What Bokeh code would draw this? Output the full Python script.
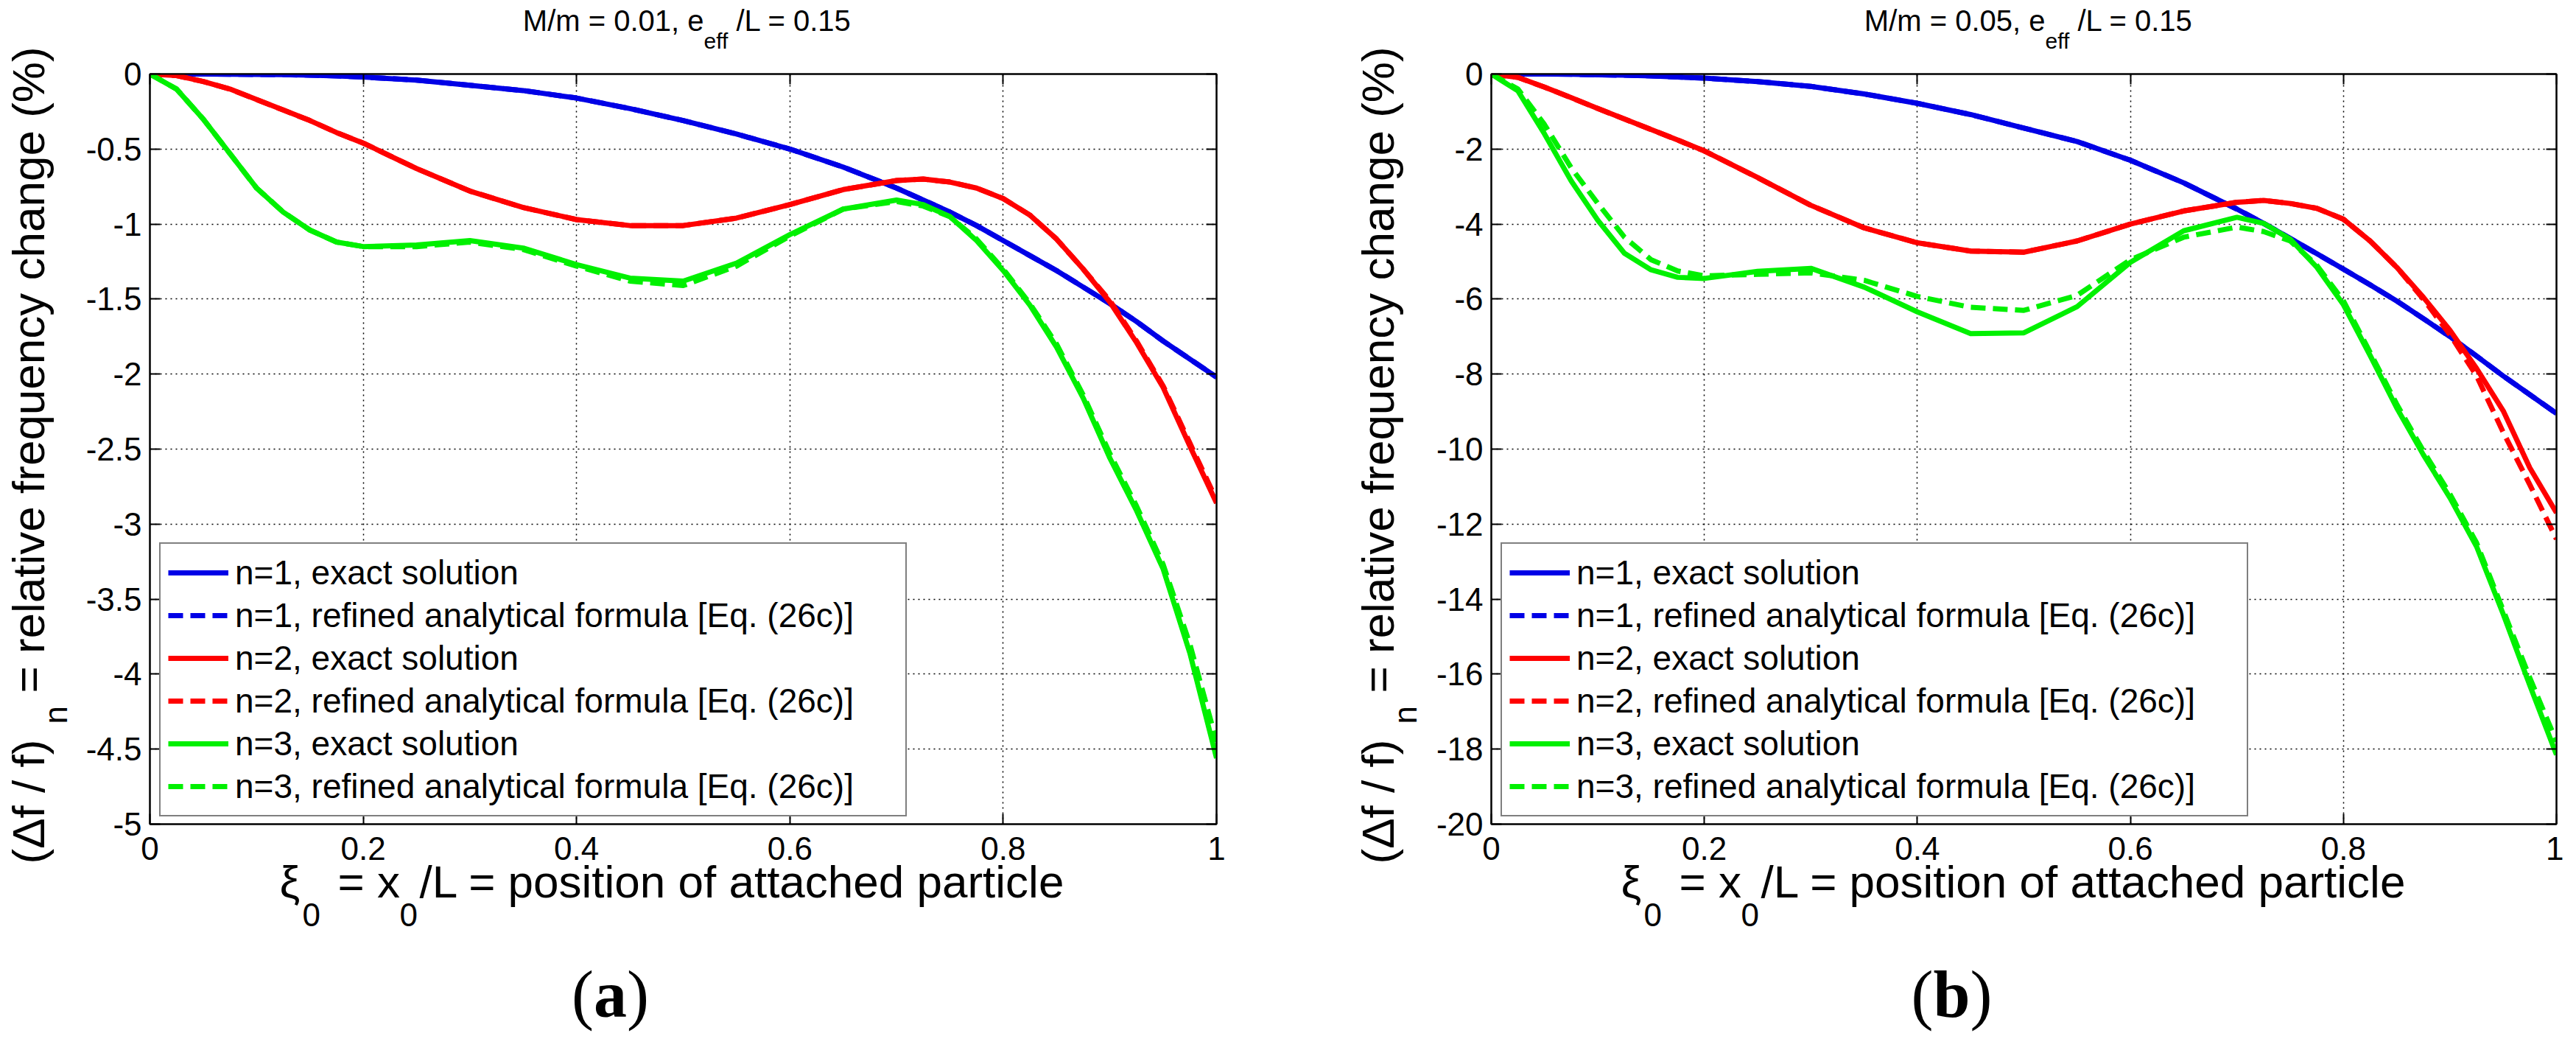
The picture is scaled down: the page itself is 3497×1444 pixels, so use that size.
import math
from bokeh.plotting import figure
from bokeh.layouts import row
from bokeh.models import Range1d, LinearAxis, FixedTicker, Label, Legend, LegendItem
from bokeh.embed import file_html
from bokeh.resources import INLINE

xi = [0, 0.025, 0.05, 0.075, 0.1, 0.125, 0.15, 0.175, 0.2, 0.25, 0.3, 0.35, 0.4,
      0.45, 0.5, 0.55, 0.6, 0.65, 0.7, 0.725, 0.75, 0.775, 0.8, 0.825, 0.85, 0.875,
      0.9, 0.925, 0.95, 0.975, 1.0]

# (a) M/m = 0.01
a_n1_exact = [0, 0, 0, -0.001, -0.002, -0.004, -0.007, -0.012, -0.02, -0.04, -0.075, -0.11, -0.16,
              -0.23, -0.31, -0.40, -0.50, -0.62, -0.76, -0.84, -0.92, -1.01, -1.11, -1.21, -1.31, -1.42,
              -1.53, -1.65, -1.78, -1.90, -2.02]
a_n1_formula = [0, 0, 0, -0.001, -0.002, -0.004, -0.007, -0.012, -0.02, -0.04, -0.075, -0.11, -0.16,
                -0.23, -0.31, -0.40, -0.50, -0.62, -0.76, -0.84, -0.92, -1.01, -1.11, -1.21, -1.31, -1.42,
                -1.53, -1.65, -1.78, -1.90, -2.02]
a_n2_exact = [0, -0.01, -0.05, -0.10, -0.17, -0.24, -0.31, -0.39, -0.46, -0.63, -0.78, -0.89, -0.97,
              -1.01, -1.01, -0.96, -0.87, -0.77, -0.71, -0.70, -0.72, -0.76, -0.83, -0.94, -1.10, -1.30,
              -1.52, -1.79, -2.09, -2.48, -2.86]
a_n2_formula = [0, -0.01, -0.05, -0.10, -0.17, -0.24, -0.31, -0.39, -0.46, -0.63, -0.78, -0.89, -0.97,
                -1.01, -1.01, -0.96, -0.87, -0.77, -0.71, -0.70, -0.72, -0.76, -0.83, -0.94, -1.10, -1.30,
                -1.51, -1.78, -2.08, -2.46, -2.84]
a_n3_exact = [0, -0.10, -0.30, -0.53, -0.76, -0.92, -1.04, -1.12, -1.15, -1.14, -1.11, -1.16, -1.27,
              -1.36, -1.38, -1.26, -1.07, -0.90, -0.84, -0.87, -0.95, -1.11, -1.31, -1.54, -1.82, -2.16,
              -2.56, -2.91, -3.30, -3.86, -4.56]
a_n3_formula = [0, -0.10, -0.30, -0.53, -0.76, -0.92, -1.04, -1.12, -1.15, -1.15, -1.12, -1.17, -1.28,
                -1.38, -1.41, -1.28, -1.08, -0.90, -0.85, -0.88, -0.95, -1.10, -1.30, -1.53, -1.80, -2.14,
                -2.53, -2.88, -3.27, -3.80, -4.45]

# (b) M/m = 0.05
b_n1_exact = [0, 0, 0, -0.005, -0.02, -0.03, -0.05, -0.08, -0.11, -0.20, -0.33, -0.53, -0.78,
              -1.08, -1.44, -1.80, -2.30, -2.90, -3.60, -3.98, -4.38, -4.79, -5.20, -5.62, -6.05, -6.52,
              -7.00, -7.52, -8.05, -8.55, -9.05]
b_n1_formula = [0, 0, 0, -0.005, -0.02, -0.03, -0.05, -0.08, -0.11, -0.20, -0.33, -0.53, -0.78,
                -1.08, -1.44, -1.80, -2.30, -2.90, -3.60, -3.98, -4.38, -4.79, -5.20, -5.62, -6.05, -6.52,
                -7.00, -7.52, -8.05, -8.55, -9.05]
b_n2_exact = [0, -0.09, -0.35, -0.63, -0.92, -1.20, -1.48, -1.76, -2.05, -2.76, -3.50, -4.10, -4.50,
              -4.72, -4.75, -4.45, -4.00, -3.65, -3.42, -3.37, -3.45, -3.58, -3.87, -4.45, -5.15, -5.95,
              -6.83, -7.85, -8.98, -10.50, -11.70]
b_n2_formula = [0, -0.09, -0.35, -0.63, -0.92, -1.20, -1.48, -1.76, -2.05, -2.76, -3.50, -4.10, -4.50,
                -4.72, -4.75, -4.45, -4.00, -3.65, -3.42, -3.37, -3.45, -3.58, -3.87, -4.45, -5.15, -6.00,
                -6.95, -8.05, -9.55, -10.95, -12.40]
b_n3_exact = [0, -0.45, -1.60, -2.85, -3.90, -4.78, -5.22, -5.42, -5.45, -5.26, -5.18, -5.68, -6.34,
              -6.92, -6.90, -6.20, -5.02, -4.18, -3.82, -3.98, -4.40, -5.15, -6.15, -7.50, -8.90, -10.15,
              -11.30, -12.60, -14.40, -16.30, -18.15]
b_n3_formula = [0, -0.40, -1.35, -2.50, -3.45, -4.35, -4.95, -5.25, -5.38, -5.34, -5.30, -5.50, -5.93,
                -6.22, -6.30, -5.90, -4.95, -4.35, -4.08, -4.20, -4.45, -5.10, -6.05, -7.42, -8.80, -10.05,
                -11.20, -12.50, -14.30, -16.10, -17.80]

x_ticks = [0, 0.2, 0.4, 0.6, 0.8, 1]
x_tick_labels = ["0", "0.2", "0.4", "0.6", "0.8", "1"]
a_y_ticks = [0, -0.5, -1, -1.5, -2, -2.5, -3, -3.5, -4, -4.5, -5]
a_y_tick_labels = ["0", "-0.5", "-1", "-1.5", "-2", "-2.5", "-3", "-3.5", "-4", "-4.5", "-5"]
b_y_ticks = [0, -2, -4, -6, -8, -10, -12, -14, -16, -18, -20]
b_y_tick_labels = ["0", "-2", "-4", "-6", "-8", "-10", "-12", "-14", "-16", "-18", "-20"]

legend_labels = ["n=1, exact solution", "n=1, refined analytical formula [Eq. (26c)]",
                 "n=2, exact solution", "n=2, refined analytical formula [Eq. (26c)]",
                 "n=3, exact solution", "n=3, refined analytical formula [Eq. (26c)]"]

BLUE, RED, GREEN = "#0000e6", "#ff0000", "#00f000"
FONT = "Liberation Sans"
SERIF = "Liberation Serif"
FH = 1018


def put(p, fw, text, px, py, size, font=FONT, **kw):
    # px: pixels right of the frame's left edge, py: pixels below the frame's top
    y0 = p.y_range.start
    lbl = Label(x=px / fw, y=y0 * py / FH, text=text, text_font=font,
                text_font_size=f"{size}px", text_color="black", **kw)
    # in the (roomy) bottom panel, so the text is not clipped to the frame
    p.add_layout(lbl, "below")


def style_axis(ax, show_labels=True):
    ax.axis_line_width = 2
    ax.axis_line_color = "black"
    ax.major_tick_in = 14
    ax.major_tick_out = 0
    ax.major_tick_line_width = 2
    ax.minor_tick_line_color = None
    ax.major_label_text_font = FONT
    ax.major_label_text_font_size = "44px"
    ax.major_label_text_color = "black"
    if not show_labels:
        ax.major_label_text_color = None
        ax.major_label_standoff = 0


def panel(fw, left, right, y_min, y_ticks, y_labels, curves, title_left, ylab_px, letter, letter_w):
    p = figure(frame_width=fw, frame_height=FH,
               min_border_left=left, min_border_right=right,
               min_border_top=100, min_border_bottom=310,
               x_range=Range1d(0, 1), y_range=Range1d(y_min, 0),
               output_backend="svg", toolbar_location=None, tools="")
    p.outline_line_color = "black"
    p.outline_line_width = 2
    p.background_fill_color = "white"
    p.border_fill_color = "white"

    p.xaxis.ticker = FixedTicker(ticks=x_ticks)
    p.xaxis.major_label_overrides = dict(zip(x_ticks, x_tick_labels))
    p.yaxis.ticker = FixedTicker(ticks=y_ticks)
    p.yaxis.major_label_overrides = dict(zip(y_ticks, y_labels))
    style_axis(p.xaxis[0])
    style_axis(p.yaxis[0])
    p.xaxis.major_label_standoff = 17
    p.yaxis.major_label_standoff = 11

    # box: ticks on the top and right edges too, without labels
    top = LinearAxis(ticker=FixedTicker(ticks=x_ticks))
    rgt = LinearAxis(ticker=FixedTicker(ticks=y_ticks))
    style_axis(top, False)
    style_axis(rgt, False)
    p.add_layout(top, "above")
    p.add_layout(rgt, "right")

    p.xgrid.ticker = FixedTicker(ticks=x_ticks)
    p.ygrid.ticker = FixedTicker(ticks=y_ticks)
    p.grid.grid_line_color = "black"
    p.grid.grid_line_dash = "2 5"
    p.grid.grid_line_width = 1.5

    items = []
    for (ys, color, dash), lab in zip(curves, legend_labels):
        r = p.line(xi, ys, line_color=color, line_width=7, line_dash=dash, line_join="round")
        items.append(LegendItem(label=lab, renderers=[r]))

    legend = Legend(items=items, location=(13, 10), label_text_font=FONT,
                    label_text_font_size="46px", label_text_color="black",
                    glyph_width=82, glyph_height=58, label_height=58, label_width=900,
                    label_standoff=9, padding=10, spacing=0, margin=0,
                    border_line_color="black", border_line_width=2,
                    background_fill_color="white", background_fill_alpha=1.0)
    p.add_layout(legend)

    # title: M/m = ..., e_eff/L = 0.15
    put(p, fw, title_left, 752, -51, 40, text_align="right")
    put(p, fw, "eff", 752, -29, 30, text_align="left")
    put(p, fw, "/L = 0.15", 796, -51, 40, text_align="left")

    # x-axis label
    put(p, fw, "\u03be", 176, 1130, 62, text_align="left")
    put(p, fw, "0", 207, 1156, 44, text_align="left")
    put(p, fw, "= x", 255, 1130, 62, text_align="left")
    put(p, fw, "0", 339, 1156, 44, text_align="left")
    put(p, fw, "/L = position of attached particle", 366, 1130, 62, text_align="left")

    # y-axis label (rotated)
    put(p, fw, "(\u0394f / f)", ylab_px, 1072, 62, text_align="left", angle=math.pi / 2)
    put(p, fw, "n", ylab_px + 27, 882, 44, text_align="left", angle=math.pi / 2)
    put(p, fw, "= relative frequency change (%)", ylab_px, 840, 62,
        text_align="left", angle=math.pi / 2)

    # panel letter
    put(p, fw, "(", 625 - letter_w / 2, 1298, 90, font=SERIF, text_align="right")
    put(p, fw, letter, 625, 1298, 90, font=SERIF, text_align="center", text_font_style="bold")
    put(p, fw, ")", 625 + letter_w / 2, 1298, 90, font=SERIF, text_align="left")
    return p


SOLID, DASH = "solid", "20 10"
curves_a = [(a_n1_exact, BLUE, SOLID), (a_n1_formula, BLUE, DASH),
            (a_n2_exact, RED, SOLID), (a_n2_formula, RED, DASH),
            (a_n3_exact, GREEN, SOLID), (a_n3_formula, GREEN, DASH)]
curves_b = [(b_n1_exact, BLUE, SOLID), (b_n1_formula, BLUE, DASH),
            (b_n2_exact, RED, SOLID), (b_n2_formula, RED, DASH),
            (b_n3_exact, GREEN, SOLID), (b_n3_formula, GREEN, DASH)]

pa = panel(1448, 203, 89, -5, a_y_ticks, a_y_tick_labels, curves_a,
           "M/m = 0.01, e", -131, "a", 45)
pb = panel(1446, 284, 10, -20, b_y_ticks, b_y_tick_labels, curves_b,
           "M/m = 0.05, e", -120, "b", 50)

layout = row(pa, pb)
open("out.html", "w").write(file_html(layout, INLINE))
